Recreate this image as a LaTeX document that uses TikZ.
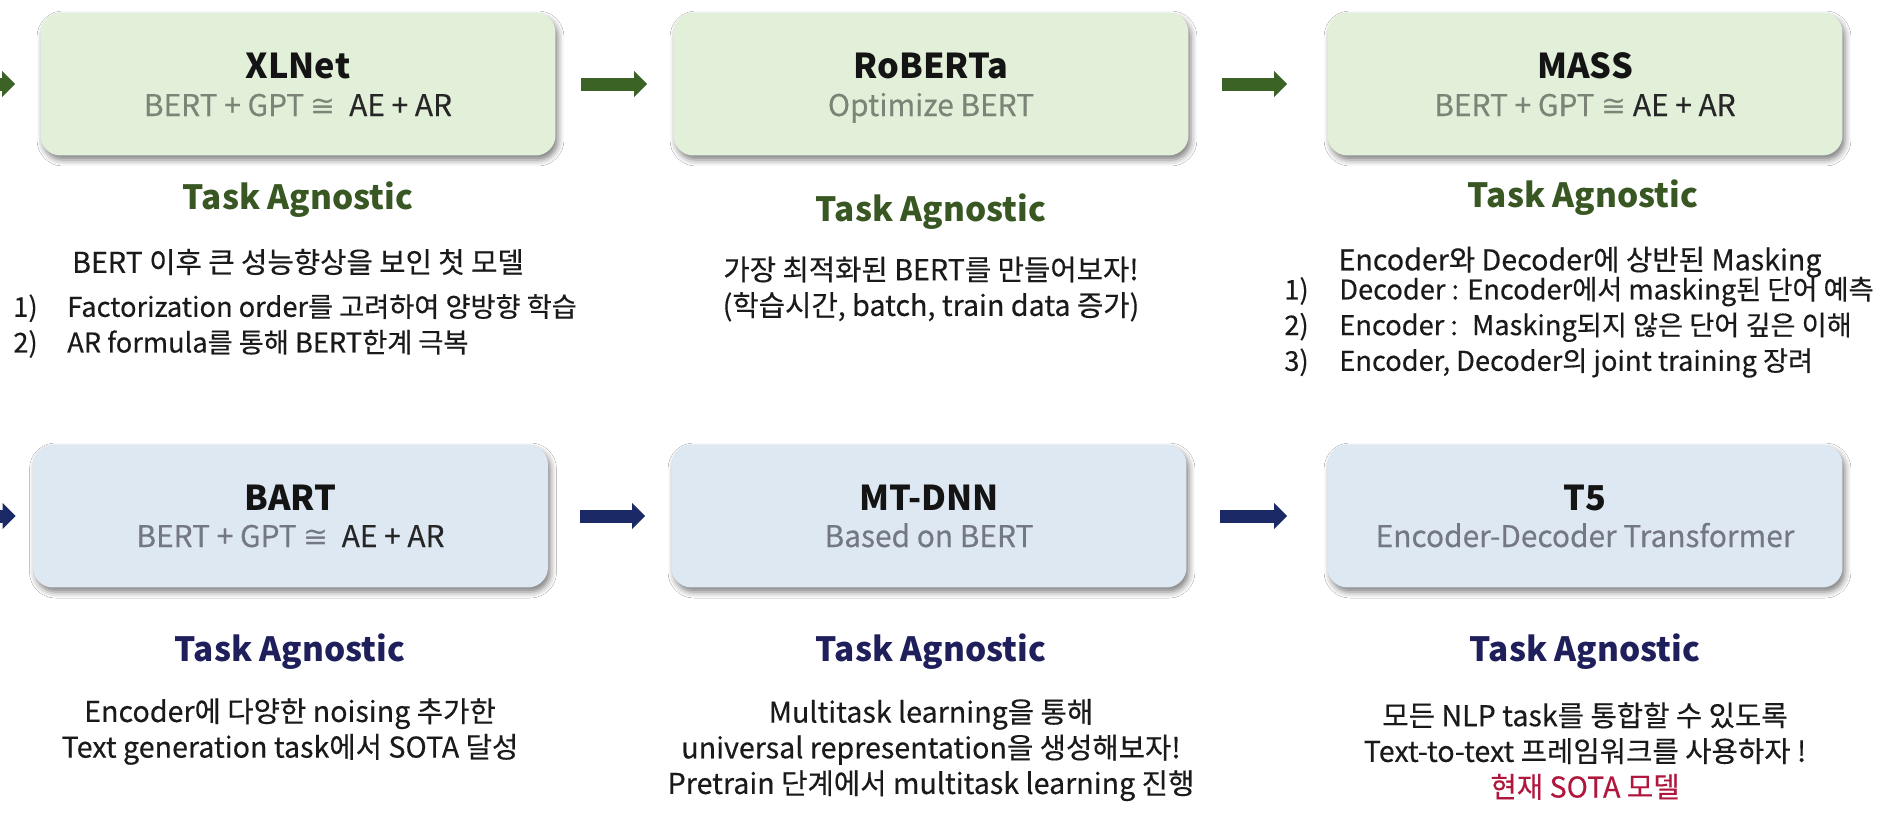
\documentclass[tikz,border=0pt]{standalone}
\usepackage{fontspec}
\setmainfont{Noto Sans CJK KR}
\newfontfamily\txtfont{Noto Sans CJK KR}[FakeBold=0.35]
\newfontfamily\dejavu{DejaVu Sans}
\usetikzlibrary{arrows.meta,shadows.blur}
\definecolor{gfill}{HTML}{E2EFD9}
\definecolor{bfill}{HTML}{DEE8F3}
\definecolor{garr}{HTML}{3B6325}
\definecolor{barr}{HTML}{1B2A66}
\definecolor{gagn}{HTML}{385723}
\definecolor{bagn}{HTML}{1F1F5C}
\definecolor{gsub}{HTML}{7C8477}
\definecolor{bsub}{HTML}{737882}
\definecolor{subblk}{HTML}{262626}
\definecolor{titleblk}{HTML}{141414}
\definecolor{txtblk}{HTML}{1A1A1A}
\definecolor{sota}{HTML}{B0173C}

\begin{document}
\begin{tikzpicture}[x=0.02cm,y=-0.02cm,
  box/.style={rounded corners=0.4cm,minimum width=10.3cm,minimum height=2.86cm,inner sep=0pt,
    blur shadow={shadow xshift=0.05cm,shadow yshift=-0.09cm,shadow blur radius=0.12cm,shadow opacity=50}},
  gbox/.style={box,fill=gfill},
  bbox/.style={box,fill=bfill},
  ttl/.style={anchor=base,inner sep=0pt,text=titleblk,font=\fontsize{19.5}{23}\selectfont\bfseries},
  sub/.style={anchor=base,inner sep=0pt,font=\txtfont\fontsize{17}{20}\selectfont},
  agn/.style={anchor=base,inner sep=0pt,font=\fontsize{19}{23}\selectfont\bfseries},
  desc/.style={inner sep=0pt,text=txtblk,font=\txtfont\fontsize{16.3}{20.3}\selectfont},
  lst/.style={desc,font=\txtfont\fontsize{15.5}{20.3}\selectfont},
  conn/.style={line width=0.26cm,-{Triangle[length=0.26cm,width=0.52cm,line width=0pt]}}]
\fill[white] (0,0) rectangle (1880,836);
\clip (0,0) rectangle (1880,836);
% ---------- 第一行 ----------
\node[gbox] (xlnet) at (298,84) {};
\node[gbox] (roberta) at (931,84) {};
\node[gbox] (mass) at (1585,84) {};
\node[ttl] (xlnet-t) at (298,78) {XLNet};
\node[sub,text=gsub] (xlnet-s) at (298,116) {BERT + GPT {\dejavu ≅}~ \textcolor{subblk}{AE + AR}};
\node[ttl] (roberta-t) at (931,78) {RoBERTa};
\node[sub,text=gsub] (roberta-s) at (931,116) {Optimize BERT};
\node[ttl] (mass-t) at (1585,78) {MASS};
\node[sub,text=gsub] (mass-s) at (1585,116) {BERT + GPT {\dejavu ≅} \textcolor{subblk}{AE + AR}};
% 箭头
\coordinate (in-top) at (-60,84);
\draw[conn,draw=garr,shorten >=0.5cm] (in-top) -- (xlnet);
\draw[conn,draw=garr,shorten <=0.5cm,shorten >=0.52cm] (xlnet) -- (roberta);
\draw[conn,draw=garr,shorten <=0.66cm,shorten >=0.8cm] (roberta) -- (mass);
\foreach \nm/\x/\y in {xlnet/298/209.5,roberta/931/221.5,mass/1583/207.5}
  \node[agn,text=gagn] (\nm-a) at (\x,\y) {Task Agnostic};
% 说明文字
\node[desc] (xlnet-d) at (298,262) {BERT 이후 큰 성능향상을 보인 첫 모델};
\node[lst,anchor=west] (xlnet-l) at (13,327.5) {\begin{tabular}{@{}p{30.7pt}@{}l@{}}
  1) & Factorization order를 고려하여 양방향 학습\\
  2) & AR formula를 통해 BERT한계 극복\end{tabular}};
\node[desc,align=center] (roberta-d) at (931,289) {가장 최적화된 BERT를 만들어보자!\\(학습시간, batch, train data 증가)};
\node[desc] (mass-d) at (1580,262) {Encoder와 Decoder에 상반된 Masking};
\node[lst,anchor=west] (mass-l) at (1284,328) {\begin{tabular}{@{}p{31.3pt}@{}l@{}}
  1) & Decoder : Encoder에서 masking된 단어 예측\\
  2) & Encoder :~ Masking되지 않은 단어 깊은 이해\\
  3) & Encoder, Decoder의 joint training 장려\end{tabular}};
% ---------- 第二行 ----------
\node[bbox] (bart) at (290.5,516) {};
\node[bbox] (mtdnn) at (929,516) {};
\node[bbox] (tfive) at (1585,516) {};
\node[ttl] (bart-t) at (290.5,510) {BART};
\node[sub,text=bsub] (bart-s) at (290.5,547) {BERT + GPT {\dejavu ≅}~ \textcolor{subblk}{AE + AR}};
\node[ttl] (mtdnn-t) at (929,510) {MT-DNN};
\node[sub,text=bsub] (mtdnn-s) at (929,547) {Based on BERT};
\node[ttl] (tfive-t) at (1585,510) {T5};
\node[sub,text=bsub] (tfive-s) at (1585,547) {Encoder-Decoder Transformer};
% 箭头
\coordinate (in-bot) at (-60,516);
\draw[conn,draw=barr,shorten >=0.34cm] (in-bot) -- (bart);
\draw[conn,draw=barr,shorten <=0.64cm,shorten >=0.52cm] (bart) -- (mtdnn);
\draw[conn,draw=barr,shorten <=0.66cm,shorten >=0.8cm] (mtdnn) -- (tfive);
\foreach \nm/\x in {bart/290,mtdnn/931,tfive/1585}
  \node[agn,text=bagn] (\nm-a) at (\x,661.5) {Task Agnostic};
% 说明文字
\node[desc,align=center] (bart-d) at (290,731.5) {Encoder에 다양한 noising 추가한\\Text generation task에서 SOTA 달성};
\node[desc,align=center] (mtdnn-d) at (931,750) {Multitask learning을 통해\\universal representation을 생성해보자!\\Pretrain 단계에서 multitask learning 진행};
\node[desc,align=center] (tfive-d) at (1585,751) {모든 NLP task를 통합할 수 있도록\\Text-to-text 프레임워크를 사용하자 !\\\textcolor{sota}{현재 SOTA 모델}};
\end{tikzpicture}
\end{document}
